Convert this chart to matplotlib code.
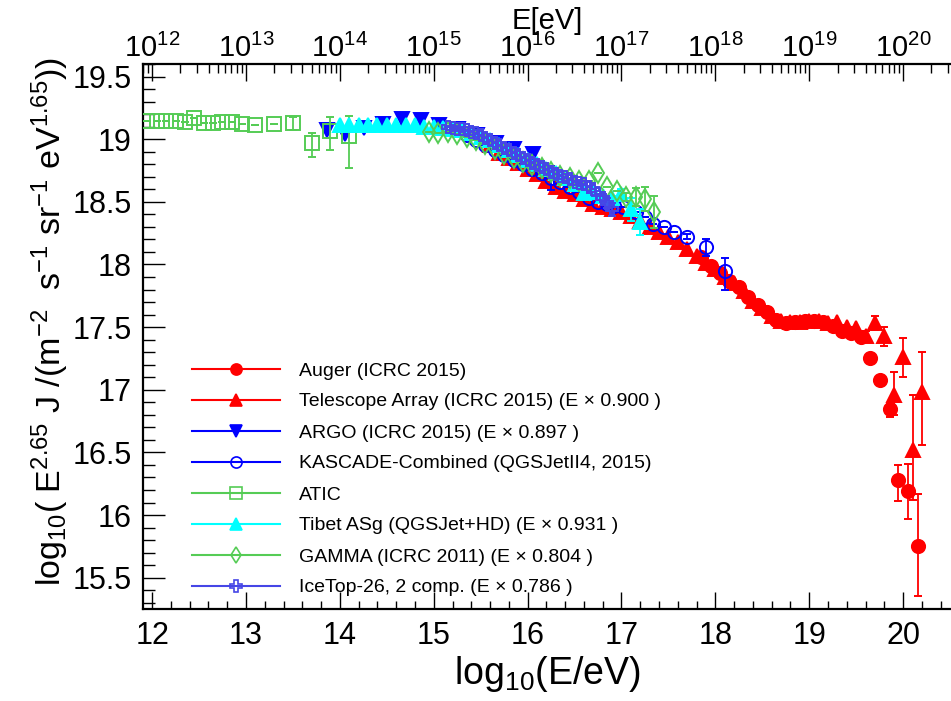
import numpy as np
import matplotlib
matplotlib.use("Agg")
import matplotlib.pyplot as plt
from matplotlib.lines import Line2D
from matplotlib.ticker import (MultipleLocator, FuncFormatter, LogLocator, NullFormatter,
                               FixedLocator)

plt.rcParams['font.family'] = ['Liberation Sans', 'DejaVu Sans']
plt.rcParams['mathtext.fontset'] = 'custom'
plt.rcParams['mathtext.rm'] = 'Liberation Sans'
plt.rcParams['mathtext.it'] = 'Liberation Sans:italic'
plt.rcParams['mathtext.default'] = 'regular'

# ---------------- data ----------------
auger_x = [17.85, 17.95, 18.05, 18.15, 18.25, 18.35, 18.45, 18.55, 18.65, 18.75, 18.85, 18.95,
           19.05, 19.15, 19.25, 19.35, 19.45, 19.55, 19.65, 19.75, 19.86, 19.95, 20.05, 20.16]
auger_y = [18.06, 17.99, 17.93, 17.87, 17.82, 17.74, 17.68, 17.62, 17.56, 17.53, 17.54, 17.55,
           17.55, 17.54, 17.51, 17.47, 17.45, 17.42, 17.25, 17.08, 16.85, 16.28, 16.19, 15.75]
auger_elo = [0, 0, 0, 0, 0, 0, 0, 0, 0, 0, 0, 0, 0, 0, 0, 0, 0, 0, 0.02, 0.03, 0.07, 0.17, 0.22, 0.40]
auger_ehi = [0, 0, 0, 0, 0, 0, 0, 0, 0, 0, 0, 0, 0, 0, 0, 0, 0, 0, 0.02, 0.03, 0.04, 0.12, 0.22, 0.42]

ta_x = [15.6, 15.7, 15.8, 15.9, 16.0, 16.1, 16.2, 16.3, 16.4, 16.5, 16.6, 16.7, 16.8, 16.9,
        17.0, 17.1, 17.2, 17.3, 17.4, 17.5, 17.6, 17.7, 17.8, 17.9, 18.0, 18.1, 18.2, 18.3,
        18.4, 18.5, 18.6, 18.7, 18.8, 18.9, 19.0, 19.1, 19.2, 19.3, 19.4, 19.5, 19.6, 19.7,
        19.8, 19.9, 20.0, 20.1, 20.2]
ta_y = [18.95, 18.89, 18.85, 18.81, 18.76, 18.72, 18.67, 18.62, 18.59, 18.56, 18.52, 18.48,
        18.46, 18.44, 18.42, 18.39, 18.35, 18.30, 18.26, 18.22, 18.18, 18.12, 18.07, 18.01,
        17.96, 17.90, 17.85, 17.79, 17.71, 17.65, 17.59, 17.55, 17.54, 17.54, 17.55, 17.55,
        17.53, 17.54, 17.50, 17.49, 17.43, 17.53, 17.43, 16.96, 17.26, 16.52, 16.98]
ta_elo = [0] * 40 + [0.04, 0.055, 0.08, 0.16, 0.16, 0.40, 0.42]
ta_ehi = [0] * 40 + [0.04, 0.055, 0.07, 0.18, 0.15, 0.44, 0.32]

argo_x = [13.86, 14.06, 14.26, 14.46, 14.66, 14.86, 15.06, 15.26, 15.46, 15.66, 15.86, 16.06]
argo_y = [19.07, 19.04, 19.09, 19.12, 19.165, 19.15, 19.11, 19.08, 19.03, 18.97, 18.92, 18.88]

kas_x = [15.35, 15.45, 15.55, 15.65, 15.75, 15.85, 15.95, 16.05, 16.15, 16.25, 16.35, 16.45,
         16.55, 16.65, 16.75, 16.85, 16.92, 17.02, 17.15, 17.25, 17.34, 17.45, 17.56, 17.70,
         17.90, 18.10]
kas_y = [19.03, 18.99, 18.95, 18.91, 18.87, 18.83, 18.80, 18.76, 18.73, 18.69, 18.66, 18.62,
         18.58, 18.53, 18.50, 18.48, 18.47, 18.456, 18.42, 18.38, 18.32, 18.30, 18.26, 18.22,
         18.14, 17.95]
kas_elo = [0] * 9 + [0.095] + [0] * 13 + [0.02, 0.07, 0.15]
kas_ehi = [0] * 9 + [0.095] + [0] * 13 + [0.02, 0.06, 0.10]

atic_x = [11.95, 12.05, 12.15, 12.25, 12.35, 12.45, 12.55, 12.65, 12.75, 12.85, 12.96,
          13.10, 13.30, 13.50, 13.70, 13.90, 14.10]
atic_y = [19.142, 19.142, 19.147, 19.147, 19.139, 19.166, 19.128, 19.128, 19.134, 19.134,
          19.12, 19.112, 19.12, 19.126, 18.97, 19.067, 19.027]
atic_elo = [0] * 13 + [0.05, 0.11, 0.15, 0.26]
atic_ehi = [0] * 13 + [0.05, 0.08, 0.11, 0.16]

tib_x = [14.0, 14.1, 14.2, 14.3, 14.4, 14.5, 14.6, 14.7, 14.8, 14.9, 15.0, 15.1, 15.2, 15.3,
         15.4, 15.5, 15.6, 15.7, 15.8, 15.9, 16.0, 16.1, 16.2, 16.3, 16.4, 16.5, 16.6, 16.7,
         16.8, 16.9, 17.0, 17.1, 17.2]
tib_y = [19.11, 19.11, 19.11, 19.11, 19.11, 19.11, 19.11, 19.11, 19.11, 19.10, 19.10, 19.09,
         19.08, 19.07, 19.05, 19.02, 18.99, 18.95, 18.91, 18.87, 18.83, 18.80, 18.76, 18.73,
         18.69, 18.64, 18.57, 18.58, 18.55, 18.53, 18.56, 18.44, 18.34]
tib_err = [0] * 29 + [0.02, 0.045, 0.09, 0.105]

gam_x = [14.95, 15.05, 15.15, 15.25, 15.35, 15.45, 15.55, 15.65, 15.75, 15.85, 15.95, 16.05,
         16.15, 16.25, 16.35, 16.45, 16.55, 16.65, 16.75, 16.85, 16.95, 17.05, 17.15, 17.25, 17.35]
gam_y = [19.06, 19.05, 19.06, 19.04, 19.02, 18.99, 18.96, 18.92, 18.88, 18.85, 18.82, 18.79,
         18.77, 18.74, 18.71, 18.69, 18.67, 18.67, 18.73, 18.615, 18.59, 18.54, 18.54, 18.52, 18.42]
gam_err = [0] * 21 + [0.03, 0.07, 0.095, 0.125]

ice_x = [15.15, 15.20, 15.25, 15.30, 15.35, 15.40, 15.45, 15.50, 15.55, 15.60, 15.65, 15.70,
         15.75, 15.80, 15.85, 15.90, 15.95, 16.00, 16.05, 16.10, 16.15, 16.20, 16.25, 16.30,
         16.35, 16.40, 16.45, 16.50, 16.55, 16.60, 16.65, 16.70, 16.75, 16.80, 16.85, 16.90]
ice_y = [19.10, 19.09, 19.085, 19.08, 19.07, 19.06, 19.05, 19.03, 19.01, 18.99, 18.97, 18.95,
         18.93, 18.91, 18.89, 18.87, 18.85, 18.83, 18.81, 18.79, 18.78, 18.76, 18.74, 18.72,
         18.71, 18.70, 18.68, 18.66, 18.65, 18.64, 18.62, 18.60, 18.56, 18.53, 18.49, 18.44]
ice_err = [0] * 33 + [0.03, 0.04, 0.05]

labels = ["Auger (ICRC 2015)",
          "Telescope Array (ICRC 2015) (E \u00d7 0.900 )",
          "ARGO (ICRC 2015) (E \u00d7 0.897 )",
          "KASCADE-Combined (QGSJetII4, 2015)",
          "ATIC",
          "Tibet ASg (QGSJet+HD) (E \u00d7 0.931 )",
          "GAMMA (ICRC 2011) (E \u00d7 0.804 )",
          "IceTop-26, 2 comp. (E \u00d7 0.786 )"]

top_decades = [12, 13, 14, 15, 16, 17, 18, 19, 20]

# ---------------- figure ----------------
W, H = 951, 701
fig = plt.figure(figsize=(W / 100, H / 100), dpi=100)
L, R, T, B = 142.7, 951.0, 64.0, 609.0
ax = fig.add_axes([L / W, 1 - B / H, (R - L) / W, (B - T) / H])

RED = "#ff0000"
BLUE = "#0000ff"
GREEN = "#55cc55"
CYAN = "#00ffff"
VIOLET = "#4646e6"

series = [
    dict(x=auger_x, y=auger_y, e=[auger_elo, auger_ehi], c=RED, m='o', ms=9.5, fill=True),
    dict(x=ta_x, y=ta_y, e=[ta_elo, ta_ehi], c=RED, m='^', ms=10.5, fill=True),
    dict(x=argo_x, y=argo_y, e=None, c=BLUE, m='v', ms=10.5, fill=True),
    dict(x=kas_x, y=kas_y, e=[kas_elo, kas_ehi], c=BLUE, m='o', ms=9.5, fill=False),
    dict(x=atic_x, y=atic_y, e=[atic_elo, atic_ehi], c=GREEN, m='s', ms=9.5, fill=False),
    dict(x=tib_x, y=tib_y, e=tib_err, c=CYAN, m='^', ms=10.5, fill=True),
    dict(x=gam_x, y=gam_y, e=gam_err, c=GREEN, m='d', ms=10.5, fill=False),
    dict(x=ice_x, y=ice_y, e=ice_err, c=VIOLET, m='P', ms=9.0, fill=False),
]
legend_ms = [8.0, 8.5, 8.5, 8.0, 8.5, 8.5, 8.0, 8.0]

for i, s in enumerate(series):
    mfc = s['c'] if s['fill'] else 'none'
    ax.errorbar(s['x'], s['y'], yerr=s['e'], fmt=s['m'], color=s['c'], ms=s['ms'],
                mfc=mfc, mec=s['c'], mew=1.4, elinewidth=1.3, capsize=3, capthick=1.3,
                ecolor=s['c'], zorder=3 + i)

ax.set_xlim(11.9, 20.51)
ax.set_ylim(15.25, 19.6)

# ---------------- legend (fixed row pitch, as in the original) ----------------
AXW, AXH = R - L, B - T
def fx(px):
    return (px - L) / AXW
def fy(py):
    return (B - py) / AXH
row0, pitch = 369.0, 31.0
for i, s in enumerate(series):
    y = fy(row0 + pitch * i)
    mfc = s['c'] if s['fill'] else 'none'
    ax.add_line(Line2D([fx(191.7), fx(280.0)], [y, y], transform=ax.transAxes,
                       color=s['c'], lw=1.5, clip_on=False, zorder=20))
    ax.add_line(Line2D([fx(236.0)], [y], transform=ax.transAxes, linestyle='none',
                       marker=s['m'], ms=legend_ms[i], mfc=mfc, mec=s['c'], mew=1.2,
                       clip_on=False, zorder=21))
    ax.text(fx(299.3), y, labels[i], transform=ax.transAxes, fontsize=14,
            va='center_baseline', ha='left', zorder=21)

# axis styling
for sp in ['left', 'bottom', 'top']:
    ax.spines[sp].set_linewidth(1.6)
ax.spines['right'].set_visible(False)

ax.xaxis.set_major_locator(MultipleLocator(1))
ax.xaxis.set_minor_locator(MultipleLocator(0.2))
ax.yaxis.set_major_locator(MultipleLocator(0.5))
ax.yaxis.set_minor_locator(MultipleLocator(0.1))
ax.yaxis.set_major_formatter(FuncFormatter(lambda v, p: f"{v:g}"))
ax.xaxis.set_major_formatter(FuncFormatter(lambda v, p: f"{v:g}"))
ax.tick_params(axis='x', which='major', direction='in', length=12.5, width=1.0,
               labelsize=22, pad=9, top=False)
ax.tick_params(axis='x', which='minor', direction='in', length=6, width=1.0, top=False)
ax.tick_params(axis='y', which='major', direction='in', length=16, width=1.0,
               labelsize=22, pad=8, right=False)
ax.tick_params(axis='y', which='minor', direction='in', length=8.5, width=1.0, right=False)

ax.set_xlabel(r"log$_{10}$(E/eV)", fontsize=27, labelpad=2)
ax.set_ylabel(r"log$_{10}$( E$^{2.65}$ J /(m$^{-2}$  s$^{-1}$ sr$^{-1}$ eV$^{1.65}$))",
              fontsize=24.5)
ax.yaxis.set_label_coords(fx(71.0), fy(322.0))

# top energy axis
ax2 = ax.twiny()
ax2.set_xscale('log')
ax2.set_xlim(10 ** 11.9, 10 ** 20.51)
for sp in ax2.spines.values():
    sp.set_visible(False)
ax2.yaxis.set_visible(False)
ax2.xaxis.set_major_locator(FixedLocator([10.0 ** d for d in top_decades]))
ax2.xaxis.set_minor_locator(LogLocator(base=10, subs=np.arange(2, 10), numticks=40))
ax2.xaxis.set_minor_formatter(NullFormatter())
ax2.xaxis.set_major_formatter(FuncFormatter(lambda v, p: r"$10^{%d}$" % round(np.log10(v))))
ax2.tick_params(axis='x', which='major', direction='in', length=12.5, width=1.0,
                labelsize=21, pad=1)
ax2.tick_params(axis='x', which='minor', direction='in', length=6.5, width=1.0)
ax2.set_xlabel("E[eV]", fontsize=21, labelpad=3)

fig.savefig("out.png", dpi=100)
